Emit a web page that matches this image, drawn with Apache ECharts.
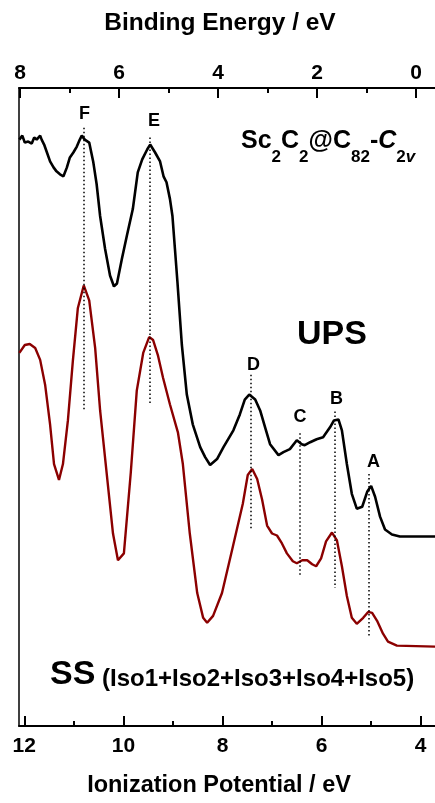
<!DOCTYPE html>
<html><head><meta charset="utf-8">
<script src="https://cdn.jsdelivr.net/npm/echarts@6/dist/echarts.min.js"></script>
<style>html,body{margin:0;padding:0;background:#fff}#c{width:435px;height:803px}</style>
</head><body><div id="c"></div>
<script>
// ---- axis ranges / ticks ----
const IP_MIN = 3.711, IP_MAX = 12.107;      // Ionization Potential (bottom, reversed)
const BE_MIN = -0.384, BE_MAX = 8.02;       // Binding Energy (top, reversed)
const ipMajor = [12, 10, 8, 6, 4];
const ipMinor = [11, 9, 7, 5];
const beMajor = [8, 6, 4, 2, 0];
const beMinor = [7, 5, 3, 1];

// ---- UPS spectrum (black) ----
const upsIP = [12.10,12.04,11.99,11.92,11.85,11.80,11.75,11.68,11.65,11.60,11.55,11.48,11.41,11.35,11.28,11.21,11.14,11.08,11.01,10.94,10.88,10.84,10.78,10.69,10.61,10.54,10.47,10.37,10.27,10.19,10.13,10.03,9.93,9.81,9.71,9.62,9.52,9.46,9.36,9.26,9.19,9.13,9.06,9.01,8.96,8.91,8.82,8.72,8.60,8.45,8.35,8.25,8.21,8.11,7.98,7.78,7.65,7.55,7.46,7.34,7.24,7.14,7.04,6.87,6.77,6.64,6.50,6.40,6.34,6.23,6.10,5.97,5.83,5.75,5.66,5.59,5.49,5.39,5.29,5.18,5.08,5.00,4.92,4.82,4.72,4.58,4.42,3.71];
const upsI = [59.1,59.5,58.8,58.9,58.7,59.3,59.1,59.5,59.1,58.6,57.9,56.9,56.3,55.9,55.6,55.4,56.3,57.3,57.8,58.4,59.1,59.5,59.1,58.8,56.9,54.6,51.4,48.1,45.4,44.3,44.6,47.1,49.4,52.1,55.8,57.1,58.1,58.6,57.8,56.9,55.4,54.8,53.1,51.4,48.1,44.8,38.4,33.4,30.4,28.1,27.1,26.3,26.3,26.9,28.1,29.8,31.4,32.9,33.4,32.9,31.8,30.1,28.4,27.3,27.6,27.9,28.8,28.4,28.3,28.6,28.9,29.1,30.1,30.8,30.9,29.8,26.4,23.4,21.9,22.1,23.6,24.2,23.1,21.1,19.8,19.3,19.1,19.1];

// ---- Simulated spectrum SS (dark red) ----
const ssIP = [12.10,11.99,11.89,11.78,11.68,11.58,11.48,11.40,11.30,11.22,11.12,11.02,10.92,10.80,10.69,10.57,10.47,10.33,10.21,10.11,9.99,9.85,9.73,9.60,9.48,9.40,9.30,9.20,9.06,8.90,8.80,8.66,8.51,8.39,8.31,8.19,8.01,7.79,7.59,7.49,7.40,7.30,7.20,7.10,7.00,6.90,6.80,6.70,6.58,6.50,6.39,6.29,6.19,6.11,6.01,5.91,5.79,5.69,5.59,5.49,5.39,5.29,5.16,5.06,4.98,4.88,4.76,4.66,4.48,3.71];
const ssI = [37.6,38.4,38.5,38.1,36.9,34.4,30.4,26.4,24.8,26.4,30.8,36.8,42.1,44.4,42.9,38.1,31.8,25.1,19.4,16.7,17.4,25.6,33.8,37.6,39.2,38.9,37.3,35.1,32.4,29.6,26.4,19.4,13.4,10.9,10.4,11.1,13.4,18.1,22.4,25.3,25.9,24.9,22.8,20.2,19.4,19.2,18.4,17.4,16.6,16.4,16.7,16.7,16.3,16.1,16.9,18.6,19.5,18.7,16.1,13.1,10.9,10.3,10.9,11.5,11.4,10.6,9.3,8.5,8.1,8.0];

// ---- peak markers ----
const peakNames = ['F','E','D','C','B','A'];
const peakIP = [10.80, 9.46, 7.42, 6.45, 5.73, 5.04];
const peakTop = [60.3, 59.3, 35.4, 29.5, 31.7, 25.4];
const peakBottom = [31.9, 32.3, 19.8, 15.1, 13.9, 9.1];
const labelIP = [10.785, 9.383, 7.374, 6.436, 5.699, 4.953];
const labelI = [61.7, 61.0, 36.4, 31.1, 33.0, 26.65];

const FONT = '"Liberation Sans", Arial, Helvetica, sans-serif';
const BLACK = '#000';
const RED = '#8B0000';

function zip(a, b) { return a.map((v, i) => [v, b[i]]); }

function majorAxis(pos, min, max, ticks, name, margin, gap, pad, nameSize) {
  return {
    type: 'value', position: pos, min: min, max: max, inverse: true,
    axisLine: { show: true, onZero: false, lineStyle: { color: BLACK, width: 2 } },
    axisTick: { show: true, inside: true, length: 10, customValues: ticks, lineStyle: { color: BLACK, width: 2 } },
    axisLabel: { show: true, customValues: ticks, margin: margin, color: BLACK, fontSize: 21, fontWeight: 'bold', fontFamily: FONT },
    splitLine: { show: false },
    name: name, nameLocation: 'middle', nameGap: gap,
    nameTextStyle: { color: BLACK, fontSize: nameSize, fontWeight: 'bold', fontFamily: FONT, padding: pad }
  };
}
function minorAxis(pos, min, max, ticks) {
  return {
    type: 'value', position: pos, min: min, max: max, inverse: true,
    axisLine: { show: false, onZero: false },
    axisTick: { show: true, inside: true, length: 5, customValues: ticks, lineStyle: { color: BLACK, width: 2 } },
    axisLabel: { show: false },
    splitLine: { show: false }
  };
}

const chart = echarts.init(document.getElementById('c'), null, { renderer: 'canvas' });
chart.setOption({
  animation: false,
  backgroundColor: '#fff',
  grid: { left: 19, right: 0, top: 88, bottom: 72, containLabel: false },
  xAxis: [
    majorAxis('bottom', IP_MIN, IP_MAX, ipMajor, 'Ionization Potential / eV', 10, 48, [0, 16, 0, 0], 23.5),
    minorAxis('bottom', IP_MIN, IP_MAX, ipMinor),
    majorAxis('top', BE_MIN, BE_MAX, beMajor, 'Binding Energy / eV', 4, 52, [0, 14, 0, 0], 24.5),
    minorAxis('top', BE_MIN, BE_MAX, beMinor)
  ],
  yAxis: {
    type: 'value', min: 0, max: 64.3,
    axisLine: { show: true, onZero: false, lineStyle: { color: BLACK, width: 1.5 } },
    axisTick: { show: false }, axisLabel: { show: false }, splitLine: { show: false }
  },
  series: [
    {
      name: 'UPS', type: 'line', xAxisIndex: 0, data: zip(upsIP, upsI),
      showSymbol: false, symbol: 'none', silent: true,
      lineStyle: { color: BLACK, width: 2.6 }, z: 3
    },
    {
      name: 'SS', type: 'line', xAxisIndex: 0, data: zip(ssIP, ssI),
      showSymbol: false, symbol: 'none', silent: true,
      lineStyle: { color: RED, width: 2.4 }, z: 3
    },
    {
      name: 'peaks', type: 'scatter', xAxisIndex: 0, silent: true, z: 4,
      data: peakNames.map((n, i) => [labelIP[i], labelI[i], n]),
      symbolSize: 0,
      itemStyle: { opacity: 1, color: BLACK },
      label: { show: true, position: 'inside', formatter: p => p.value[2], color: BLACK, opacity: 1, fontSize: 18, fontWeight: 'bold', fontFamily: FONT },
      markLine: {
        silent: true, symbol: ['none', 'none'], label: { show: false },
        lineStyle: { color: BLACK, width: 1.5, opacity: 1, type: [1.5, 2.5] },
        data: peakIP.map((x, i) => [{ coord: [x, peakTop[i]] }, { coord: [x, peakBottom[i]] }])
      }
    }
  ],
  graphic: [
    {
      type: 'text', x: 241, y: 141, silent: true,
      style: {
        text: '{m|Sc}{s|2}{m|C}{s|2}{m|@C}{s|82}{m|-}{mi|C}{s|2}{si|v}',
        align: 'left', verticalAlign: 'middle', fill: BLACK,
        fontSize: 25, fontWeight: 'bold', fontFamily: FONT,
        rich: {
          m: { fontSize: 25, fontWeight: 'bold', fontFamily: FONT, fill: BLACK },
          mi: { fontSize: 25, fontWeight: 'bold', fontStyle: 'italic', fontFamily: FONT, fill: BLACK },
          s: { fontSize: 17, fontWeight: 'bold', fontFamily: FONT, fill: BLACK, padding: [32, 0, 0, 0] },
          si: { fontSize: 17, fontWeight: 'bold', fontStyle: 'italic', fontFamily: FONT, fill: BLACK, padding: [32, 0, 0, 0] }
        }
      }
    },
    {
      type: 'text', x: 297, y: 335, silent: true,
      style: { text: 'UPS', fontSize: 34, fontWeight: 'bold', fontFamily: FONT, fill: BLACK, align: 'left', verticalAlign: 'middle' }
    },
    {
      type: 'text', x: 50, y: 675, silent: true,
      style: { text: 'SS', fontSize: 34, fontWeight: 'bold', fontFamily: FONT, fill: BLACK, align: 'left', verticalAlign: 'middle' }
    },
    {
      type: 'text', x: 102, y: 679, silent: true,
      style: { text: '(Iso1+Iso2+Iso3+Iso4+Iso5)', fontSize: 24, fontWeight: 'bold', fontFamily: FONT, fill: BLACK, align: 'left', verticalAlign: 'middle' }
    }
  ]
});
</script></body></html>
